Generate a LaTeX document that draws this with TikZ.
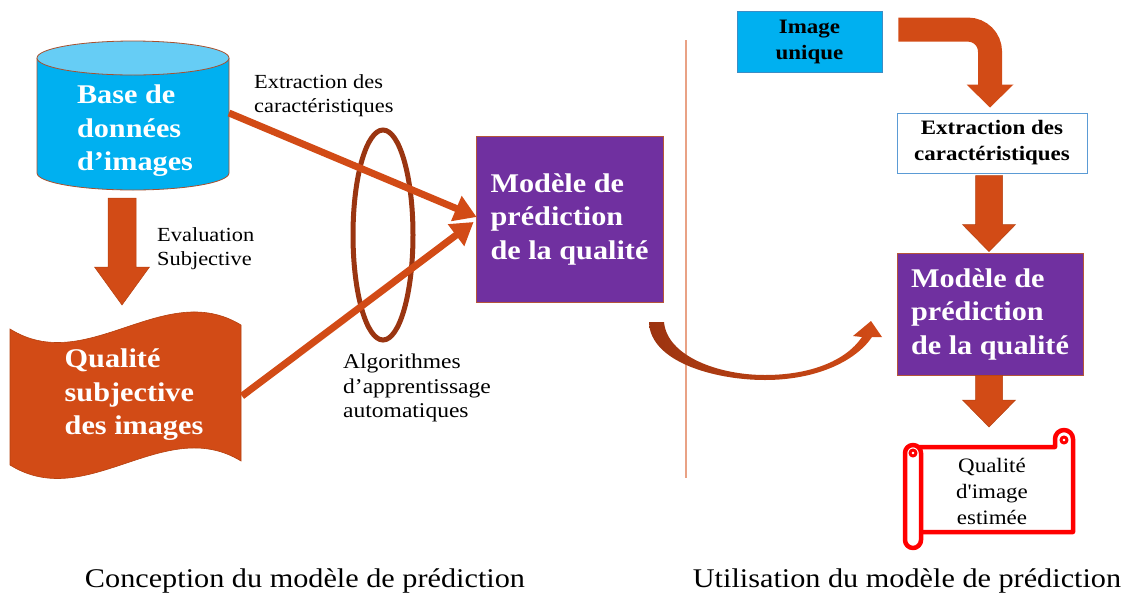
\documentclass[tikz,border=0pt]{standalone}
\usepackage{fontspec}
\setmainfont{Liberation Serif}[FakeStretch=1.12]
% same serif without TeX quote ligatures, keeps the straight apostrophe
\newfontfamily\scrollfont{Liberation Serif}[FakeStretch=1.12]
\usetikzlibrary{arrows.meta,calc,shapes.geometric}

\definecolor{dbcyan}{HTML}{00B0F0}
\definecolor{dbtop}{HTML}{66CDF5}
\definecolor{dbline}{HTML}{A8502E}
\definecolor{rust}{HTML}{D24B16}
\definecolor{rustedge}{HTML}{B5400F}
\definecolor{rustdark}{HTML}{9C3410}
\definecolor{ringbrown}{HTML}{9A3511}
\definecolor{plum}{HTML}{7030A0}
\definecolor{plumedge}{HTML}{B5553A}
\definecolor{divider}{HTML}{E9A285}
\definecolor{boxblue}{HTML}{5B9BD5}
\definecolor{imgedge}{HTML}{3C8DC5}
\definecolor{scrollred}{HTML}{FF0000}

% vertical block arrow: #1 top of shaft, #2 tip, #3 half shaft width,
% #4 half head width, #5 head length
\newcommand{\downblock}[5]{%
  \filldraw[fill=rust, draw=rustedge, line width=0.5pt]
    let \p1=(#1), \p2=(#2) in
    (\x1-#3,\y1) -- (\x1+#3,\y1) -- (\x1+#3,\y2+#5) -- (\x1+#4,\y2+#5)
    -- (\x1,\y2) -- (\x1-#4,\y2+#5) -- (\x1-#3,\y2+#5) -- cycle;}

\begin{document}
\begin{tikzpicture}[x=1pt,y=-1pt,
  bigtxt/.style={font=\bfseries\fontsize{27}{33.5}\selectfont, text=white, align=left, inner sep=0pt},
  midtxt/.style={font=\bfseries\fontsize{20.5}{26}\selectfont, align=center, inner sep=0pt},
  note/.style={font=\fontsize{20}{24}\selectfont, align=left, inner sep=0pt, anchor=west},
  caption/.style={font=\fontsize{27}{30}\selectfont, anchor=base, inner sep=0pt},
  modelbox/.style={draw=plumedge, line width=0.8pt, fill=plum, minimum width=187pt, minimum height=166pt, bigtxt},
  link/.style={rust, line width=7pt, -{Triangle[length=22pt,width=26pt]}},
]
\useasboundingbox (0,0) rectangle (1125,595);

% ---------- left part: design of the model ----------
% image database (cylinder)
\fill[dbcyan] (37,58) -- (37,173) arc[start angle=180,end angle=0,x radius=96,y radius=17] -- (229,58) -- cycle;
\draw[dbline, line width=0.8pt] (37,58) -- (37,173) arc[start angle=180,end angle=0,x radius=96,y radius=17] -- (229,58);
\filldraw[fill=dbtop, draw=dbline, line width=0.8pt] (133,58) ellipse[x radius=96, y radius=17];
\node[bigtxt] (db) at (135,131) {Base de\\données\\d’images};

% subjective quality (wave)
\filldraw[fill=rust, draw=rustedge, line width=0.6pt]
  (10,329) .. controls (87,377) and (164,278) .. (241,325) -- (241,461)
  .. controls (164,414) and (87,513) .. (10,465) -- cycle;
\node[bigtxt] (tape) at (134,395) {Qualité\\subjective\\des images};

% subjective evaluation arrow
\coordinate (dbS) at (122,198);
\coordinate (tapeN) at (122,305);
\downblock{dbS}{tapeN}{14pt}{27.5pt}{38pt}
\node[note] (evl) at (157,249) {Evaluation\\Subjective};

% learning ring
\node[ellipse, draw=ringbrown, line width=5pt, minimum width=60pt, minimum height=210pt, inner sep=0pt] (ring) at (383,235) {};

% quality model
\node[modelbox] (m1) at (569.5,219) {Modèle de\\prédiction\\de la qualité};

% feature / label links
\coordinate (dbR) at (229,113);
\coordinate (tapeR) at (242,396);
\draw[link] (dbR) -- ($(m1.west)+(1,-2)$);
\draw[link] (tapeR) -- ($(m1.west)+(-2,3)$);

\node[note] (fx) at (254,96) {Extraction des\\caractéristiques};
\node[note, font=\fontsize{21}{24.5}\selectfont] (ml) at (343,388) {Algorithmes\\d’apprentissage\\automatiques};

% separator
\coordinate (divtop) at (686,40);
\coordinate (divbot) at (686,478);
\draw[divider, line width=1.5pt] (divtop) -- (divbot);

% transfer arrow
\shade[left color=rustdark, right color=rust]
  (649,322) .. controls (650,362) and (715,380) .. (765,380)
  .. controls (815,380) and (855,362) .. (872,337)
  -- (882,337) -- (871,321) -- (853,336) -- (862,337)
  .. controls (845,362) and (808,375) .. (765,375)
  .. controls (718,375) and (667,356) .. (664,322) -- cycle;

% ---------- right part: use of the model ----------
\node[draw=imgedge, line width=0.8pt, fill=dbcyan, minimum width=145pt, minimum height=61pt, midtxt] (imgu) at (809.5,41.5) {Image\\unique};
\node[draw=boxblue, line width=1pt, fill=white, minimum width=190pt, minimum height=60pt, midtxt] (extr) at (992,143) {Extraction des\\caractéristiques};
\node[modelbox, minimum width=186pt, minimum height=122pt] (m2) at (990,314) {Modèle de\\prédiction\\de la qualité};

% bent arrow
\coordinate (bendS) at ($(imgu.north east)+(16,19)$);
\coordinate (bendE) at (990,86);
\coordinate (bendT) at ($(extr.north)+(-2,-5)$);
\draw[rust, line width=24pt, rounded corners=22pt] (bendS) -| (bendE);
\fill[rust] let \p1=(bendT) in (\x1-23.5pt,\y1+23pt) -- (\x1+23.5pt,\y1+23pt) -- (bendT) -- cycle;

% straight block arrows
\coordinate (a2s) at ($(extr.south)+(-3,2)$);
\coordinate (a2e) at ($(m2.north)+(-1,-1)$);
\downblock{a2s}{a2e}{13.5pt}{26.5pt}{27pt}
\coordinate (a3s) at ($(m2.south)+(-1,0)$);
\coordinate (a3e) at (989,427);
\downblock{a3s}{a3e}{13.5pt}{26.5pt}{27pt}

% estimated quality scroll
\begin{scope}[draw=scrollred, line width=4.5pt, fill=white, line join=round]
  \filldraw (913,447) -- (1055,447) -- (1055,439) arc[start angle=180, end angle=360, radius=9] -- (1073,532) -- (913,532) -- cycle;
  \draw[line width=3pt] (1064,440) circle[radius=3];
  \filldraw[rounded corners=8pt] (905,445) rectangle (921,548);
  \draw[line width=3pt] (913,453) circle[radius=3];
\end{scope}
\node[font=\scrollfont\fontsize{20.5}{26}\selectfont, align=center, inner sep=0pt] (est) at (992,491) {Qualité\\d'image\\estimée};

% captions
\node[caption] (cap1) at (305,587) {Conception du modèle de prédiction};
\node[caption] (cap2) at (907,587) {Utilisation du modèle de prédiction};
\end{tikzpicture}
\end{document}
